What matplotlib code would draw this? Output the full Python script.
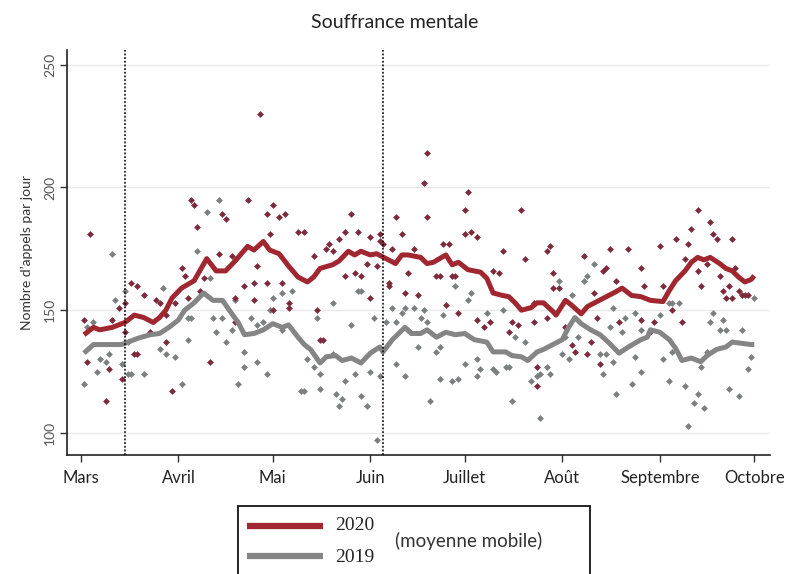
import matplotlib
matplotlib.use("Agg")
import matplotlib.pyplot as plt
from matplotlib.patches import Rectangle
from matplotlib.lines import Line2D

plt.rcParams['font.family'] = ['Lato', 'DejaVu Sans']

# ---- data (day index: 0 = 1 March) ----
month_labels = ["Mars", "Avril", "Mai", "Juin", "Juillet", "Août", "Septembre", "Octobre"]
month_days = [0, 31, 61, 92, 122, 153, 184, 214]
event_days = [14, 96]
y_ticks = [100, 150, 200, 250]

ma2020_days = [1, 4, 6, 10, 14, 17, 20, 23, 25, 27, 29, 32, 36, 40, 43, 46, 49, 53, 55, 58, 60, 63, 66,
               69, 72, 74, 76, 80, 82, 85, 87, 89, 92, 94, 97, 100, 102, 104, 108, 110, 112, 116, 118,
               120, 123, 127, 129, 131, 134, 136, 138, 140, 143, 145, 147, 150, 151, 153, 154, 156, 159,
               161, 164, 167, 170, 172, 175, 178, 181, 185, 187, 189, 192, 194, 196, 198, 200, 203, 205,
               207, 209, 211, 213, 214]
ma2020 = [140, 143, 142, 143, 145, 148, 147, 145, 147, 150, 155, 159, 162, 171, 166, 166, 170, 176, 174.5,
          178, 174.5, 173, 168, 163.5, 161.5, 163.5, 167, 168.5, 170, 174, 172.5, 174, 172.5, 173, 171,
          169, 172.5, 172.5, 171.5, 169, 169.5, 172.5, 168.5, 169.5, 166.5, 165.5, 163, 157, 156, 155.5,
          153, 150, 151, 153, 153, 149.5, 148, 152, 154, 152, 148.5, 151.5, 153.5, 155.5, 157.5, 159, 156,
          155.5, 154, 153.5, 158, 162, 166, 169.5, 171.5, 170.5, 171.5, 169, 167, 166, 163.5, 161.5,
          162.5, 164]

ma2019_days = [1, 4, 6, 9, 13, 15, 18, 22, 25, 28, 31, 33, 36, 39, 42, 45, 48, 50, 52, 55, 58, 61, 64,
               66, 69, 71, 73, 76, 78, 81, 83, 86, 89, 92, 95, 96, 99, 101, 103, 105, 108, 110, 113, 116,
               119, 122, 125, 129, 131, 135, 137, 140, 142, 145, 147, 150, 153, 155, 157, 159, 162, 165,
               168, 171, 174, 178, 180, 181, 184, 187, 189, 191, 194, 197, 199, 202, 205, 207, 210, 213, 214]
ma2019 = [132.5, 136, 136, 136, 136, 137, 138.5, 140, 140.5, 143, 146, 150, 153, 157, 154, 154, 148.5, 145,
          140, 140.5, 142, 144.5, 143, 144, 139, 136, 134, 128.5, 131, 131.5, 129.5, 130.5, 128.5, 132.5,
          135, 133, 138, 140.5, 143, 140.5, 140.5, 142, 139, 141, 140, 140.5, 138, 137, 133, 133, 131.5,
          131, 129.5, 133, 134, 136, 138, 143, 147, 144.5, 142, 140, 136.5, 132.5, 135, 138, 139, 142,
          141, 138, 134.5, 129.5, 130.5, 129, 131.5, 134, 135, 137, 136.5, 136, 136]

pts2020_days = [1, 2, 3, 8, 9, 10, 12, 13, 14, 14, 16, 17, 18, 18, 20, 22, 24, 25, 27, 27, 29, 30, 32, 33,
                35, 36, 37, 34, 38, 39, 41, 44, 45, 46, 48, 49, 49, 52, 53, 55, 55, 56, 57, 59, 59, 60,
                61, 61, 63, 64, 65, 66, 66, 69, 71,
                74, 75, 76, 77, 78, 79, 80, 82, 84, 84, 86, 87, 88, 89, 91, 92, 92, 94, 95, 95, 96, 98,
                98, 99, 100, 102, 103, 104, 106, 107,
                109, 110, 110, 113, 114, 115, 116, 117, 118, 119, 120, 122, 122, 123, 124, 126, 126, 128,
                130, 131, 133, 134, 136, 137, 139, 140, 141,
                144, 144, 145, 145, 148, 148, 149, 150, 150, 152, 154, 156, 157, 160, 161, 162, 163, 164,
                165, 166, 167, 168, 170, 171, 174, 178, 178, 179,
                181, 182, 184, 185, 188, 189, 191, 192, 193, 194, 196, 196, 197, 199, 200, 201, 202, 203,
                204, 205, 206, 207, 207, 208, 209, 210, 211, 212]
pts2020 = [146, 129, 181, 113, 126, 146, 151, 122, 153, 141, 161, 132, 160, 132, 156, 141, 154, 153, 137, 148,
           117, 153, 167, 164,
           195, 193, 184, 155, 158, 163, 129, 173, 189, 187, 172, 155, 145, 160, 195, 161, 154, 168, 230,
           189, 161, 181, 193, 150, 188, 161, 189, 153, 151, 182, 182,
           172, 150, 138, 138, 175, 177, 174, 179, 182, 164, 189, 165, 182, 164, 169, 180, 155, 168, 181,
           178, 177, 161, 160, 175, 188, 181, 157, 165, 175, 156,
           202, 214, 188, 164, 164, 177, 152, 177, 164, 164, 149, 181, 191, 198, 182, 146, 180, 143, 145,
           166, 165, 174, 141, 145, 144, 191, 171,
           153, 145, 127, 119, 147, 174, 176, 165, 159, 159, 143, 136, 133, 172, 132, 137, 157, 147, 128,
           166, 167, 175, 162, 145, 175, 167, 146, 160,
           141, 145, 176, 160, 150, 179, 145, 171, 177, 183, 191, 166, 160, 169, 186, 181, 179, 164, 158,
           155, 160, 179, 155, 167, 158, 156, 156, 156]

pts2019_days = [1, 2, 4, 5, 6, 8, 9, 10, 11, 13, 14, 15, 16, 15, 20, 26, 25, 27, 30, 32,
                44, 40, 37, 41, 61, 64, 49, 67, 60, 35, 34, 42, 45, 48, 54, 56, 58, 64, 34, 43, 46, 52,
                56, 52, 59, 50, 70,
                88, 89, 80, 99, 103, 106, 102, 75, 93, 97, 100, 86, 107, 104, 72, 80, 74, 76, 87, 84,
                92, 95, 100, 103, 71, 76, 81, 83, 82, 89, 91, 94,
                119, 124, 123, 109, 108, 115, 129, 134, 110, 113, 114, 141, 138, 122, 126, 127, 131,
                132, 135, 136, 114, 118, 120, 126, 143, 111, 137,
                163, 160, 161, 152, 156, 169, 176, 173, 172, 168, 178, 158, 154, 167, 165, 153, 155, 148,
                149, 145, 146, 169, 166, 176, 178, 175, 170, 146,
                187, 188, 190, 184, 201, 204, 203, 205, 200, 210, 214, 188, 199, 213, 185, 197, 212, 187,
                192, 206, 196, 209, 195, 198, 193]
pts2019 = [120, 143, 145, 125, 130, 129, 132, 173, 154, 128, 158, 124, 124, 137, 124, 159, 134, 132, 131, 120,
           195, 190, 174, 163, 155, 157, 154, 158, 150, 147, 147, 147, 147, 142, 147, 144, 145, 142, 138,
           141, 137, 133, 129, 127, 124, 120, 117,
           158, 158, 153, 151, 151, 151, 149, 147, 147, 145, 145, 144, 135, 142, 130, 132, 127, 124, 124,
           121, 125, 123, 128, 123, 117, 118, 116, 114, 111, 115, 111, 97,
           160, 157, 154, 150, 147, 148, 149, 150, 145, 133, 135, 137, 139, 128, 130, 126, 126, 125, 127,
           127, 122, 121, 122, 123, 121, 113, 113,
           169, 162, 164, 162, 156, 151, 149, 147, 141, 143, 142, 139, 139, 132, 132, 132, 130, 127, 124,
           123, 124, 129, 124, 131, 125, 120, 116, 106,
           153, 153, 153, 148, 149, 146, 142, 142, 145, 142, 155, 133, 133, 131, 130, 127, 126, 121, 119,
           118, 116, 115, 112, 110, 103]

# ---- figure ----
W, H = 790, 574
fig = plt.figure(figsize=(W / 100, H / 100), dpi=100)
ax = fig.add_axes([67 / W, 1 - 455 / H, (770 - 67) / W, (455 - 50) / H])

red_pt = "#7d2a3c"
grey_pt = "#7a7f80"
red_line = "#a0262f"
grey_line = "#858585"

ax.scatter(pts2019_days, pts2019, s=12, marker="D", color=grey_pt, linewidths=0, zorder=2)
ax.scatter(pts2020_days, pts2020, s=12, marker="D", color=red_pt, linewidths=0, zorder=2)
ax.plot(ma2019_days, ma2019, color=grey_line, lw=3.6, zorder=3, solid_capstyle="butt")
ax.plot(ma2020_days, ma2020, color=red_line, lw=3.6, zorder=4, solid_capstyle="butt")

for d in event_days:
    ax.axvline(d, color="black", lw=1.1, ls=(0, (1.2, 1.2)), zorder=5)

ax.set_xlim(-4.4, 219)
ax.set_ylim(91, 256)
ax.set_yticks(y_ticks)
ax.set_yticklabels([str(v) for v in y_ticks], rotation=90, va="center", fontsize=10, color="#555555")
ax.set_xticks(month_days)
ax.set_xticklabels(month_labels, fontsize=12, color="#222222")
ax.tick_params(axis="both", length=5, width=1, color="#333333")
ax.tick_params(axis="x", pad=6)
ax.tick_params(axis="y", pad=3)
ax.grid(axis="y", color="#e8e8e8", lw=1)
ax.set_axisbelow(True)
for s in ["top", "right"]:
    ax.spines[s].set_visible(False)
for s in ["left", "bottom"]:
    ax.spines[s].set_color("#222222")
    ax.spines[s].set_linewidth(1.2)

ax.set_ylabel("Nombre d\u2019appels par jour", fontsize=10, color="#333333", labelpad=8)
fig.text(395 / W, 1 - 22 / H, "Souffrance mentale", ha="center", va="center", fontsize=14, color="#222222")

# ---- legend box below ----
fig.patches.append(Rectangle((238 / W, 1 - 580 / H), (590 - 238) / W, (580 - 506) / H,
                             transform=fig.transFigure, fill=False, ec="black", lw=1.2))
fig.lines.append(Line2D([247 / W, 323 / W], [1 - 526 / H] * 2, transform=fig.transFigure,
                        color=red_line, lw=4.5, solid_capstyle="butt"))
fig.lines.append(Line2D([247 / W, 323 / W], [1 - 556 / H] * 2, transform=fig.transFigure,
                        color=grey_line, lw=4.5, solid_capstyle="butt"))
fig.text(335 / W, 1 - 525 / H, "2020", fontsize=14, family=["Liberation Serif", "DejaVu Serif"],
         va="center", ha="left", color="#222222")
fig.text(335 / W, 1 - 557 / H, "2019", fontsize=14, family=["Liberation Serif", "DejaVu Serif"],
         va="center", ha="left", color="#222222")
fig.text(395 / W, 1 - 541 / H, "(moyenne mobile)", fontsize=13.5, va="center", ha="left", color="#333333")

fig.savefig("out.png", dpi=100)
